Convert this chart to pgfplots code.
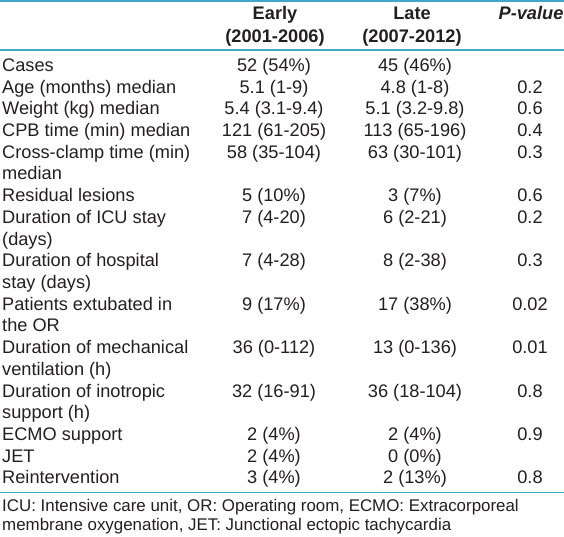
\documentclass[border=0pt]{standalone}
\usepackage{fontspec}
\setmainfont{Liberation Sans}
\usepackage{pgfplots}
\pgfplotsset{compat=1.18}
\definecolor{rule}{RGB}{62,168,198}
\definecolor{ink}{RGB}{35,31,32}
\newcommand{\bodyfont}{\fontsize{18.2}{21.7}\selectfont}
\newcommand{\footfont}{\fontsize{16.9}{19}\selectfont}
\tikzset{lab/.style={anchor=base west,inner sep=0,text=ink,font=\bodyfont},
  val/.style={anchor=base,inner sep=0,text=ink,font=\bodyfont},
  hd/.style={anchor=base,inner sep=0,text=ink,font=\bodyfont\bfseries}}
\newcommand{\row}[5]{%
  \node[lab] at (axis cs:2,#1) {#2};
  \node[val] at (axis cs:274,#1) {#3};
  \node[val] at (axis cs:415,#1) {#4};
  \node[val] at (axis cs:530,#1) {#5};}
\begin{document}
\begin{tikzpicture}[x=1pt,y=1pt]
\path[use as bounding box] (0,0) rectangle (564,537);
\begin{axis}[at={(0,0)},anchor=south west,scale only axis,width=564pt,height=537pt,
  xmin=0,xmax=564,ymin=0,ymax=537,y dir=reverse,hide axis,clip=false]
\draw[rule,line width=1.6pt] (axis cs:0,1) -- (axis cs:564,1);
\draw[rule,line width=1.3pt] (axis cs:0,50) -- (axis cs:564,50);
\draw[rule,line width=1.3pt] (axis cs:0,492.7) -- (axis cs:564,492.7);
% header
\node[hd] at (axis cs:275,20) {Early};
\node[hd] at (axis cs:275,43) {(2001-2006)};
\node[hd] at (axis cs:412,20) {Late};
\node[hd] at (axis cs:412,43) {(2007-2012)};
\node[hd,font=\bodyfont\bfseries\itshape] at (axis cs:531,20) {P-value};
% rows
\row{71.5}{Cases}{52 (54\%)}{45 (46\%)}{}
\row{93.2}{Age (months) median}{5.1 (1-9)}{4.8 (1-8)}{0.2}
\row{114.9}{Weight (kg) median}{5.4 (3.1-9.4)}{5.1 (3.2-9.8)}{0.6}
\row{136.6}{CPB time (min) median}{121 (61-205)}{113 (65-196)}{0.4}
\row{158.3}{Cross-clamp time (min)}{58 (35-104)}{63 (30-101)}{0.3}
\row{180.0}{median}{}{}{}
\row{201.7}{Residual lesions}{5 (10\%)}{3 (7\%)}{0.6}
\row{223.4}{Duration of ICU stay}{7 (4-20)}{6 (2-21)}{0.2}
\row{245.1}{(days)}{}{}{}
\row{266.8}{Duration of hospital}{7 (4-28)}{8 (2-38)}{0.3}
\row{288.5}{stay (days)}{}{}{}
\row{310.2}{Patients extubated in}{9 (17\%)}{17 (38\%)}{0.02}
\row{331.9}{the OR}{}{}{}
\row{353.6}{Duration of mechanical}{36 (0-112)}{13 (0-136)}{0.01}
\row{375.3}{ventilation (h)}{}{}{}
\row{397.0}{Duration of inotropic}{32 (16-91)}{36 (18-104)}{0.8}
\row{418.7}{support (h)}{}{}{}
\row{440.4}{ECMO support}{2 (4\%)}{2 (4\%)}{0.9}
\row{462.1}{JET}{2 (4\%)}{0 (0\%)}{}
\row{483.8}{Reintervention}{3 (4\%)}{2 (13\%)}{0.8}
% footnote
\node[lab,font=\footfont] at (axis cs:2,511) {ICU: Intensive care unit, OR: Operating room, ECMO: Extracorporeal};
\node[lab,font=\footfont] at (axis cs:2,530) {membrane oxygenation, JET: Junctional ectopic tachycardia};
\end{axis}
\end{tikzpicture}
\end{document}
